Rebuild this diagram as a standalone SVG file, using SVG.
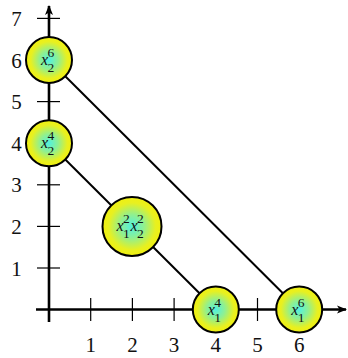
<svg xmlns="http://www.w3.org/2000/svg" width="348" height="358" viewBox="0 0 348 358">
<style>
.axis{stroke:#000;stroke-width:2.6;fill:none}
.tick{stroke:#000;stroke-width:1.2}
.conn{stroke:#000;stroke-width:2;fill:none}
.node{fill:url(#g);stroke:#000;stroke-width:2}
.num{font-family:"Liberation Serif",serif;font-size:21px;fill:#111}
.nx{font-family:"Liberation Serif",serif;font-size:16px;font-style:italic;fill:#111}
.ns{font-family:"Liberation Serif",serif;font-size:13.5px;fill:#111}
</style>
<defs>
<radialGradient id="g" cx="0.5" cy="0.5" r="0.5">
<stop offset="0" stop-color="#50f0e0"/>
<stop offset="0.4" stop-color="#90f090"/>
<stop offset="0.8" stop-color="#e8f020"/>
<stop offset="1" stop-color="#f0f010"/>
</radialGradient>
<marker id="ah" viewBox="0 0 10 10" refX="9" refY="5" markerWidth="10" markerHeight="10" markerUnits="userSpaceOnUse" orient="auto">
<path d="M0,1 L10,5 L0,9 L2.5,5 Z" fill="#000"/>
</marker>
</defs>
<g id="axes">
<line class="axis" x1="36" y1="309.5" x2="346" y2="309.5" marker-end="url(#ah)"/>
<line class="axis" x1="49" y1="322" x2="49" y2="6" marker-end="url(#ah)"/>
<g class="tick">
<line x1="90.7" y1="298" x2="90.7" y2="321"/>
<line x1="132.4" y1="298" x2="132.4" y2="321"/>
<line x1="174.1" y1="298" x2="174.1" y2="321"/>
<line x1="215.8" y1="298" x2="215.8" y2="321"/>
<line x1="257.5" y1="298" x2="257.5" y2="321"/>
<line x1="299.2" y1="298" x2="299.2" y2="321"/>
<line x1="37" y1="268" x2="60" y2="268"/>
<line x1="37" y1="226.4" x2="60" y2="226.4"/>
<line x1="37" y1="184.8" x2="60" y2="184.8"/>
<line x1="37" y1="143.2" x2="60" y2="143.2"/>
<line x1="37" y1="101.6" x2="60" y2="101.6"/>
<line x1="37" y1="60" x2="60" y2="60"/>
<line x1="37" y1="18.4" x2="60" y2="18.4"/>
</g>
<g class="num" text-anchor="middle">
<text x="90.7" y="351.5">1</text>
<text x="132.4" y="351.5">2</text>
<text x="174.1" y="351.5">3</text>
<text x="215.8" y="351.5">4</text>
<text x="257.5" y="351.5">5</text>
<text x="299.2" y="351.5">6</text>
<text x="16.5" y="275.5">1</text>
<text x="16.5" y="233.9">2</text>
<text x="16.5" y="192.3">3</text>
<text x="16.5" y="150.7">4</text>
<text x="16.5" y="109.1">5</text>
<text x="16.5" y="67.5">6</text>
<text x="16.5" y="25.9">7</text>
</g>
</g>
<g id="connectors">
<line class="conn" x1="49" y1="60" x2="299.2" y2="309.5"/>
<line class="conn" x1="49" y1="143.2" x2="215.8" y2="309.5"/>
</g>
<g id="n-x2-6">
<circle class="node" cx="49" cy="60" r="23"/>
<text class="nx" x="41" y="65">x</text>
<text class="ns" x="47.5" y="57">6</text>
<text class="ns" x="47.5" y="72">2</text>
</g>
<g id="n-x2-4">
<circle class="node" cx="49" cy="143.2" r="23"/>
<text class="nx" x="41" y="148.2">x</text>
<text class="ns" x="47.5" y="140.2">4</text>
<text class="ns" x="47.5" y="155.2">2</text>
</g>
<g id="n-x1-2-x2-2">
<circle class="node" cx="132" cy="226.4" r="29.5"/>
<text class="nx" x="116.5" y="231.4">x</text>
<text class="ns" x="123" y="223.4">2</text>
<text class="ns" x="123" y="238.4">1</text>
<text class="nx" x="130.5" y="231.4">x</text>
<text class="ns" x="137" y="223.4">2</text>
<text class="ns" x="137" y="238.4">2</text>
</g>
<g id="n-x1-4">
<circle class="node" cx="215.8" cy="309.5" r="23"/>
<text class="nx" x="207.8" y="314.5">x</text>
<text class="ns" x="214.3" y="306.5">4</text>
<text class="ns" x="214.3" y="321.5">1</text>
</g>
<g id="n-x1-6">
<circle class="node" cx="299.2" cy="309.5" r="23"/>
<text class="nx" x="291.2" y="314.5">x</text>
<text class="ns" x="297.7" y="306.5">6</text>
<text class="ns" x="297.7" y="321.5">1</text>
</g>
</svg>
